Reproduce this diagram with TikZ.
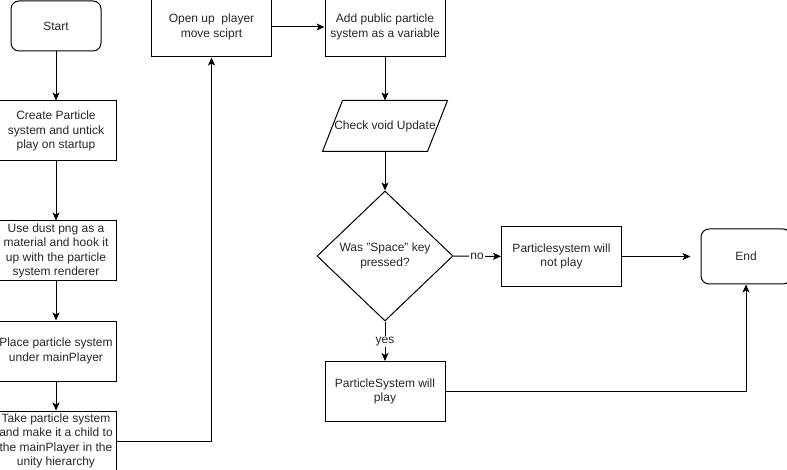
\documentclass[tikz,border=0pt]{standalone}
\usepackage{fontspec}
\setmainfont{Liberation Sans}
\usetikzlibrary{shapes.geometric,arrows.meta}
\begin{document}
\begin{tikzpicture}[x=1pt,y=-1pt,line width=1pt,>={Stealth[length=8pt,width=7pt,inset=2pt]},
    every node/.style={font=\fontsize{12}{14.5}\selectfont,text=black!85,align=center},
    box/.style={draw,rectangle,minimum width=120pt,minimum height=60pt,inner sep=0pt},
    term/.style={draw,rectangle,rounded corners=8pt,minimum width=90pt,inner sep=0pt},
    io/.style={rectangle,minimum width=104pt,minimum height=50pt,inner sep=0pt},
    decision/.style={draw,diamond,minimum width=136pt,minimum height=130pt,inner sep=0pt},
    lbl/.style={fill=white,inner sep=1pt}]
  \useasboundingbox (0,0) rectangle (787,470);
  \draw
    (56,26) node[term,minimum height=50pt] (start){Start}
    (56,131) node[box] (create){Create Particle\\system and untick\\play on startup}
    (56,251) node[box] (dust){Use dust png as a\\material and hook it\\up with the particle\\system renderer}
    (56,351) node[box] (place){Place particle system\\under mainPlayer}
    (56,441) node[box] (take){Take particle system\\and make it a child to\\the mainPlayer in the\\unity hierarchy}
    (211.5,27) node[box] (open){Open up~ player\\move sciprt}
    (385,27) node[box] (add){Add public particle\\system as a variable}
    (385,126) node[io] (check){Check void Update}
    (385,256) node[decision] (dec){Was "Space" key\\pressed?}
    (561.5,256.5) node[box] (noplay){Particlesystem will\\not play}
    (746,256.5) node[term,minimum height=55pt] (end){End}
    (385,391.5) node[box] (play){ParticleSystem will\\play};
  \draw ([xshift=10pt]check.north west) -- ([xshift=10pt]check.north east)
    -- ([xshift=-10pt]check.south east) -- ([xshift=-10pt]check.south west) -- cycle;
  \begin{scope}[->]
    \draw (start) to (create);
    \draw (create) to (dust);
    \draw (dust) to (place);
    \draw (place) to (take);
    \draw (take) -| (open);
    \draw (open) to (add);
    \draw (add) to (check);
    \draw (check) to (dec);
    \draw (dec) to node[lbl]{no} (noplay);
    \draw[shorten >=10pt] (noplay) to (end);
    \draw (dec) to node[lbl]{yes} (play);
    \draw (play) -| (end);
  \end{scope}
\end{tikzpicture}
\end{document}
